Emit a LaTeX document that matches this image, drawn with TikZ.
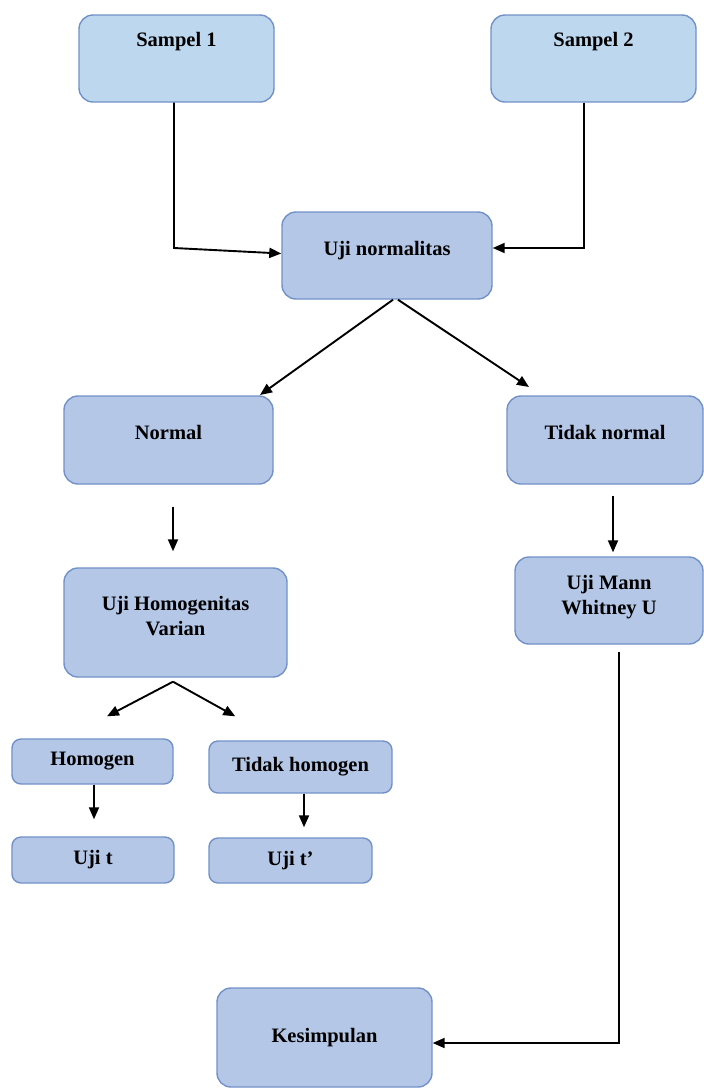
\documentclass[tikz,border=0pt]{standalone}
\usepackage{fontspec}
\setmainfont{Liberation Serif}
\usetikzlibrary{arrows.meta}
\definecolor{boxline}{RGB}{114,145,200}
\definecolor{boxfill}{RGB}{180,199,231}
\definecolor{topfill}{RGB}{189,215,238}
\tikzset{
  box/.style={draw=boxline, fill=boxfill, line width=1.4pt, rounded corners=14pt,
    inner sep=0pt, align=center, font=\fontsize{20.5}{25}\selectfont\bfseries},
  smallbox/.style={box, rounded corners=9pt},
  raised/.style={text height=14, text depth=15},
  arr/.style={line width=1.9pt, -{Triangle[length=12pt,width=10pt]}},
}

\begin{document}
\begin{tikzpicture}[x=1pt,y=-1pt]
\useasboundingbox (0,0) rectangle (704,1088);
% samples
\node[box, fill=topfill, minimum width=195, text height=31, text depth=56] (s1) at (176.5,58.5) {Sampel 1};
\node[box, fill=topfill, minimum width=205, text height=31, text depth=56] (s2) at (593.5,58.5) {Sampel 2};
\node[box, raised, minimum width=210, minimum height=87] (un) at (387,255.5) {Uji normalitas};
% branches
\node[box, raised, minimum width=209, minimum height=88] (nm) at (168.5,440) {Normal};
\node[box, raised, minimum width=196, minimum height=88] (tn) at (605,440) {Tidak normal};
\node[box, minimum width=223, text height=67, text depth=42] (hv) at (175.5,622.5) {Uji Homogenitas\\Varian};
\node[box, minimum width=188, text height=57, text depth=30] (mw) at (609,600.5) {Uji Mann\\Whitney U};
% small boxes
\node[smallbox, minimum width=161, minimum height=45] (hg) at (92.5,761.5) {Homogen};
\node[smallbox, minimum width=183, minimum height=52] (th) at (300.5,767) {Tidak homogen};
\node[smallbox, minimum width=162, minimum height=46] (ut) at (93,860) {Uji t};
\node[smallbox, minimum width=163, minimum height=45] (ut2) at (290.5,860.5) {Uji t’};
\node[box, minimum width=215, minimum height=99] (ks) at (324.5,1037.5) {Kesimpulan};
% connectors
\coordinate (k1) at (174,248);
\coordinate (k2) at (584,248);
\coordinate (k3) at (619,1043);
\coordinate (a1) at (260,395);
\coordinate (a2) at (529,387);
\draw[arr] (k1 |- s1.south) -- (k1) -- ([yshift=2pt]un.west);
\draw[arr] (k2 |- s2.south) -- (k2) -- (k2 -| un.east);
\draw[arr] ([xshift=6pt]un.south) -- (a1);
\draw[arr] ([xshift=11pt]un.south) -- (a2);
\draw[arr] ([shift={(4.5,22)}]nm.south) -- ([shift={(-2.5,-16)}]hv.north);
\draw[arr] ([shift={(8,11)}]tn.south) -- ([shift={(4,-4)}]mw.north);
\draw[arr] ([shift={(-2.5,4)}]hv.south) -- ([shift={(14.5,-22)}]hg.north);
\draw[arr] ([shift={(-2.5,4)}]hv.south) -- ([shift={(27,-24)}]th.north west);
\draw[arr] ([xshift=1.5pt]hg.south) -- ([shift={(1,-17)}]ut.north);
\draw[arr] ([xshift=3.5pt]th.south) -- ([shift={(13.5,-10)}]ut2.north);
\draw[arr] ([shift={(10,7)}]mw.south) -- (k3) -- (k3 -| ks.east);
\end{tikzpicture}
\end{document}
